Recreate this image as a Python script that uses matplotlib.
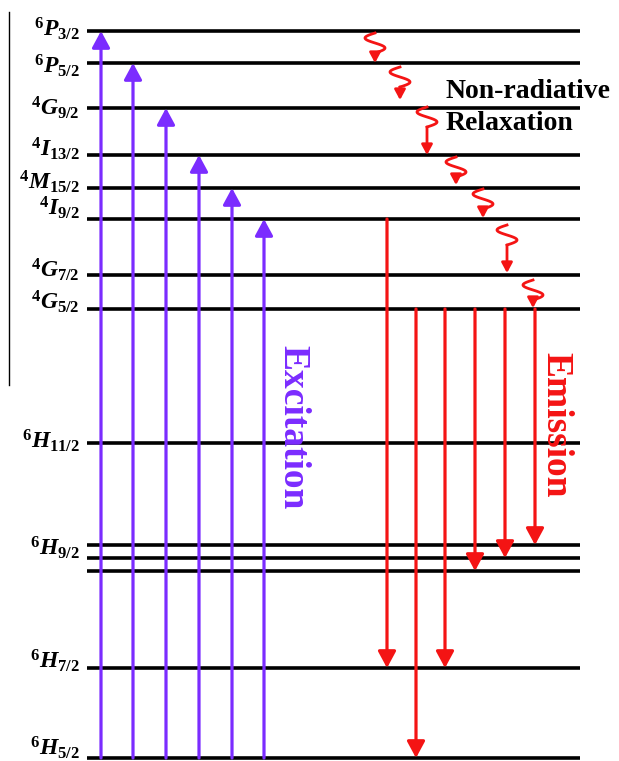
# Sm3+ energy level diagram: excitation, non-radiative relaxation, emission
import matplotlib.pyplot as plt
import numpy as np

plt.rcParams['mathtext.fontset'] = 'custom'
plt.rcParams['mathtext.it'] = 'Liberation Serif:italic:bold'
plt.rcParams['mathtext.rm'] = 'Liberation Serif:bold'
plt.rcParams['mathtext.bf'] = 'Liberation Serif:bold'

# levels, top to bottom (vertical position)
level_labels = [r'$^{6}P_{3/2}$', r'$^{6}P_{5/2}$', r'$^{4}G_{9/2}$',
                r'$^{4}I_{13/2}$', r'$^{4}M_{15/2}$', r'$^{4}I_{9/2}$',
                r'$^{4}G_{7/2}$', r'$^{4}G_{5/2}$', r'$^{6}H_{11/2}$',
                r'$^{6}H_{9/2}$', '', '', r'$^{6}H_{7/2}$', r'$^{6}H_{5/2}$']
level_y = [31, 63, 108, 155, 188, 219, 275, 309, 443, 545, 558, 571, 668, 758]
label_dy = [-2, 3, 0, -6, -6, -11, -5, -7, -2, 3, 0, 0, -7, -10]

# excitation arrows (ground state -> upper levels)
exc_x = [101, 133, 166, 199, 232, 264]
exc_to = [0, 1, 2, 3, 4, 5]

# emission arrows
emi_x = [387, 416, 445, 475, 505, 535]
emi_from = [5, 7, 7, 7, 7, 7]
emi_to = [12, 13, 12, 11, 10, 9]

# non-radiative relaxation squiggles
relax_x = [375, 400, 427, 456, 483, 507, 533]
relax_top = [33, 67, 107, 157, 189, 225, 280]
relax_end = [63, 100, 155, 185, 218, 273, 308]

purple = '#7B2CFF'
red = '#F41414'

fig = plt.figure(figsize=(6.19, 7.61), dpi=100)
ax = fig.add_axes([0, 0, 1, 1])
ax.set_xlim(0, 619)
ax.set_ylim(761, 0)
ax.axis('off')

# left border line
ax.plot([9, 9], [12, 385], color='black', lw=1.0)

# energy levels
for lab, y, dy in zip(level_labels, level_y, label_dy):
    ax.plot([87, 580], [y, y], color='black', lw=2.6, solid_capstyle='butt')
    if lab:
        ax.text(80, y + dy, lab, ha='right', va='center', fontsize=17)


def arrow(x, y0, y1, color, lw, scale):
    ax.annotate('', xy=(x, y1), xytext=(x, y0),
                arrowprops=dict(arrowstyle='-|>,head_length=0.5,head_width=0.27',
                                color=color, lw=lw, mutation_scale=scale,
                                shrinkA=0, shrinkB=0))


ground = level_y[-1]
for x, i in zip(exc_x, exc_to):
    arrow(x, ground, level_y[i], purple, 2.3, 20)

for x, i, j in zip(emi_x, emi_from, emi_to):
    arrow(x, level_y[i], level_y[j], red, 2.3, 20)

# squiggly relaxation arrows
t = np.linspace(0, 1, 60)
for x, top, end in zip(relax_x, relax_top, relax_end):
    sx = x - 10 * np.sin(2 * np.pi * t)
    sy = top + 20 * t
    ax.plot(sx, sy, color=red, lw=2.0)
    arrow(x, top + 20, end, red, 2.0, 12)

ax.text(293, 427, 'Excitation', rotation=-90, color=purple, fontsize=27,
        fontweight='bold', family='Liberation Serif', ha='center', va='center')
ax.text(556, 425, 'Emission', rotation=-90, color=red, fontsize=27,
        fontweight='bold', family='Liberation Serif', ha='center', va='center')

ax.text(446, 91, 'Non-radiative', fontsize=20, fontweight='bold',
        family='Liberation Serif', ha='left', va='center')
ax.text(446, 124, 'Relaxation', fontsize=20, fontweight='bold',
        family='Liberation Serif', ha='left', va='center')

fig.savefig('out.png', dpi=100)
